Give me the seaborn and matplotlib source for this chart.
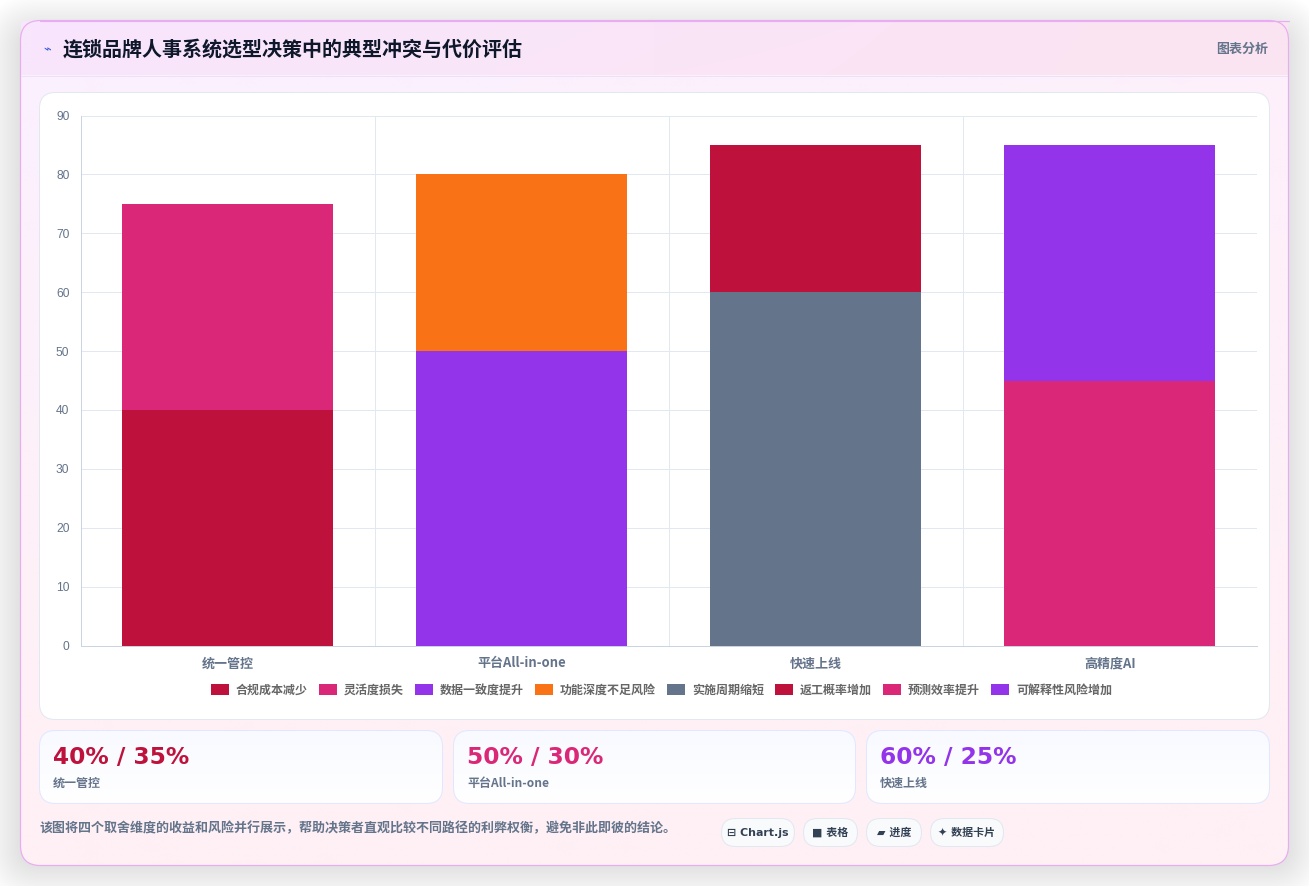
import numpy as np
import pandas as pd
import matplotlib
matplotlib.use("Agg")
import matplotlib.pyplot as plt
from matplotlib.patches import FancyBboxPatch, Patch, Rectangle
import seaborn as sns

# Chart data
categories = ["统一管控", "平台All-in-one", "快速上线", "高精度AI"]
benefit_names = ["合规成本减少", "数据一致度提升", "实施周期缩短", "预测效率提升"]
risk_names = ["灵活度损失", "功能深度不足风险", "返工概率增加", "可解释性风险增加"]
benefit_values = [40, 50, 60, 45]
risk_values = [35, 30, 25, 40]
benefit_colors = ["#be123c", "#9333ea", "#64748b", "#db2777"]
risk_colors = ["#db2777", "#f97316", "#be123c", "#9333ea"]
y_ticks = [0, 10, 20, 30, 40, 50, 60, 70, 80, 90]

kpi_values = ["40% / 35%", "50% / 30%", "60% / 25%"]
kpi_labels = ["统一管控", "平台All-in-one", "快速上线"]
kpi_colors = ["#be123c", "#db2777", "#9333ea"]
pill_labels = ["⊟ Chart.js", "■ 表格", "▰ 进度", "✦ 数据卡片"]

title_text = "连锁品牌人事系统选型决策中的典型冲突与代价评估"
badge_text = "图表分析"
note_text = "该图将四个取舍维度的收益和风险并行展示，帮助决策者直观比较不同路径的利弊权衡，避免非此即彼的结论。"

W, H = 1309, 886
CJK = ["Noto Sans CJK SC", "DejaVu Sans"]
LATIN_FIRST = ["DejaVu Sans", "Noto Sans CJK SC"]
PX = 72 / 100  # points per pixel at 100 dpi

sns.set_theme(style="white")
plt.rcParams["font.family"] = CJK

fig = plt.figure(figsize=(W / 100, H / 100), dpi=100, facecolor="white")
bg = fig.add_axes([0, 0, 1, 1], zorder=0)
bg.set_xlim(0, W)
bg.set_ylim(H, 0)
bg.axis("off")


def rounded(x0, y0, x1, y1, r, **kw):
    patch = FancyBboxPatch((x0, y0), x1 - x0, y1 - y0,
                           boxstyle=f"round,pad=0,rounding_size={r}", **kw)
    bg.add_patch(patch)
    return patch


def gradient(x0, y0, x1, y1, corners, clip=None, zorder=1):
    """Fill a box by blending four corner colours (tl, tr, bl, br)."""
    c = np.array([matplotlib.colors.to_rgb(v) for v in corners])
    t = np.linspace(0, 1, 64)
    u, v = np.meshgrid(t, t)
    img = ((1 - u)[..., None] * (1 - v)[..., None] * c[0] + u[..., None] * (1 - v)[..., None] * c[1]
           + (1 - u)[..., None] * v[..., None] * c[2] + u[..., None] * v[..., None] * c[3])
    im = bg.imshow(img, extent=(x0, x1, y1, y0), aspect="auto", zorder=zorder, interpolation="bilinear")
    if clip is not None:
        im.set_clip_path(clip)
    bg.set_xlim(0, W)
    bg.set_ylim(H, 0)
    return im


# Soft drop shadow under the main card
for grow in np.linspace(38, 0, 30):
    rounded(20 - grow, 32 - grow, 1288 + grow, 865 + grow, 20 + grow,
            facecolor="#0f172a", edgecolor="none", alpha=0.0032, zorder=0.5)

# Main card
card = rounded(20.5, 20.5, 1288.5, 865.5, 20, facecolor="#fdf0fb", edgecolor="none", zorder=1)
gradient(20, 20, 1289, 866, ["#fbf0ff", "#fdf0fc", "#fff0f4", "#fff0f4"], clip=card, zorder=1.1)

# Header strip
gradient(21, 21, 1288, 75, ["#f8e6fe", "#fbe4f1", "#f9e6fc", "#fbe4f1"], zorder=1.2)
bg.plot([21, 1288], [75.5, 75.5], color="#ece2f8", lw=1 * PX, zorder=1.3)
rounded(20.5, 20.5, 1288.5, 865.5, 20, facecolor="none", edgecolor="#e9abf2", lw=1.2 * PX, zorder=1.4)
bg.plot([40, 1288.5], [20.7, 20.7], color="#e9abf2", lw=1.2 * PX, zorder=1.4)
bg.add_patch(Rectangle((1270, 21), 18, 12, facecolor="#fbe4f1", edgecolor="none", zorder=1.35))

bg.text(47, 50, "⌁", color="#3b5bdb", fontsize=13 * PX, ha="center", va="center",
        family="DejaVu Sans", zorder=3)
bg.text(63, 49.5, title_text, color="#0f172a", fontsize=20 * PX, fontweight="bold",
        ha="left", va="center", family=CJK, zorder=3)
bg.text(1268, 48.5, badge_text, color="#64748b", fontsize=13 * PX, fontweight="bold",
        ha="right", va="center", family=CJK, zorder=3)

# Chart panel
rounded(39.5, 92.5, 1269.5, 719.5, 16, facecolor="white", edgecolor="#e2e8f0", lw=1 * PX, zorder=2)

# KPI cards
kpi_boxes = [(39.5, 442.5), (453.5, 855.5), (866.5, 1269.5)]
for (x0, x1), value, label, color in zip(kpi_boxes, kpi_values, kpi_labels, kpi_colors):
    box = rounded(x0, 730.5, x1, 803.5, 16, facecolor="white", edgecolor="none", zorder=2)
    gradient(x0, 730, x1, 804, ["#f8faff", "#f8faff", "#ffffff", "#ffffff"], clip=box, zorder=2.1)
    rounded(x0, 730.5, x1, 803.5, 16, facecolor="none", edgecolor="#e0e7ff", lw=1 * PX, zorder=2.2)
    bg.text(x0 + 13.5, 757.5, value, color=color, fontsize=23.3 * PX, fontweight="bold",
            ha="left", va="center", family="DejaVu Sans", zorder=3)
    bg.text(x0 + 13.5, 783.5, label, color="#64748b", fontsize=12 * PX, fontweight="bold",
            ha="left", va="center", family=CJK if label[0] != "平" else CJK, zorder=3)

# Closing note
bg.text(39, 828, note_text, color="#64748b", fontsize=13 * PX, fontweight="bold",
        ha="left", va="center", family=CJK, zorder=3)

# Pills
pill_boxes = [(721.5, 794.5), (803.5, 857.5), (866.5, 921.5), (930.5, 1003.5)]
for (x0, x1), label in zip(pill_boxes, pill_labels):
    rounded(x0, 818.5, x1, 846.5, 14, facecolor="#f8fafc", edgecolor="#e2e8f0", lw=1 * PX, zorder=2)
    bg.text((x0 + x1) / 2, 832.5, label, color="#334155", fontsize=11 * PX, fontweight="bold",
            ha="center", va="center", family=LATIN_FIRST, zorder=3)

# Stacked bars
frame = pd.DataFrame({
    "category": categories,
    "benefit": benefit_values,
    "risk": risk_values,
})
frame["total"] = frame["benefit"] + frame["risk"]

plot_left, plot_right, plot_top, plot_bottom = 80.5, 1257, 115.5, 645.5
ax = fig.add_axes([plot_left / W, 1 - plot_bottom / H,
                   (plot_right - plot_left) / W, (plot_bottom - plot_top) / H], zorder=4)
ax.patch.set_alpha(0)

sns.barplot(data=frame, x="category", y="total", hue="category", palette=risk_colors,
            dodge=False, legend=False, width=0.717, saturation=1, linewidth=0, ax=ax, zorder=3)
sns.barplot(data=frame, x="category", y="benefit", hue="category", palette=benefit_colors,
            dodge=False, legend=False, width=0.717, saturation=1, linewidth=0, ax=ax, zorder=3)

ax.set_xlim(-0.5, 3.5)
ax.set_ylim(0, 90)
ax.set_xlabel("")
ax.set_ylabel("")
ax.set_yticks(y_ticks)
ax.set_axisbelow(True)
ax.grid(axis="y", color="#e2e8f0", lw=1 * PX)
ax.set_xticks([-0.5, 0.5, 1.5, 2.5], minor=True)
ax.grid(axis="x", which="minor", color="#e2e8f0", lw=1 * PX)
ax.tick_params(axis="x", which="major", length=0, pad=11 * PX, labelsize=13 * PX, labelcolor="#64748b")
ax.tick_params(axis="x", which="minor", length=9 * PX, width=1 * PX, color="#e2e8f0")
ax.tick_params(axis="y", length=9 * PX, width=1 * PX, color="#e2e8f0", pad=2 * PX,
               labelsize=12 * PX, labelcolor="#64748b")
for lab in ax.get_xticklabels():
    lab.set_fontweight("bold")
    lab.set_family(CJK)
for lab in ax.get_yticklabels():
    lab.set_family("Liberation Sans")
for side in ("top", "right"):
    ax.spines[side].set_visible(False)
for side in ("left", "bottom"):
    ax.spines[side].set_color("#cbd5e1")
    ax.spines[side].set_linewidth(1 * PX)

# Legend, one entry per series in dataset order
legend_names, legend_colors = [], []
for i in range(len(categories)):
    legend_names += [benefit_names[i], risk_names[i]]
    legend_colors += [benefit_colors[i], risk_colors[i]]
handles = [Patch(facecolor=c, edgecolor="none", label=n) for n, c in zip(legend_names, legend_colors)]
leg = fig.legend(handles=handles, ncol=8, loc="center", bbox_to_anchor=(661.5 / W, 1 - 690 / H),
                 frameon=False, fontsize=12 * PX, handlelength=1.5, handleheight=0.95,
                 handletextpad=0.58, columnspacing=0.92, borderpad=0, labelcolor="#666666",
                 prop={"family": CJK, "size": 12 * PX, "weight": "bold"})
leg.set_zorder(5)

fig.savefig("out.png", dpi=100, facecolor="white")
